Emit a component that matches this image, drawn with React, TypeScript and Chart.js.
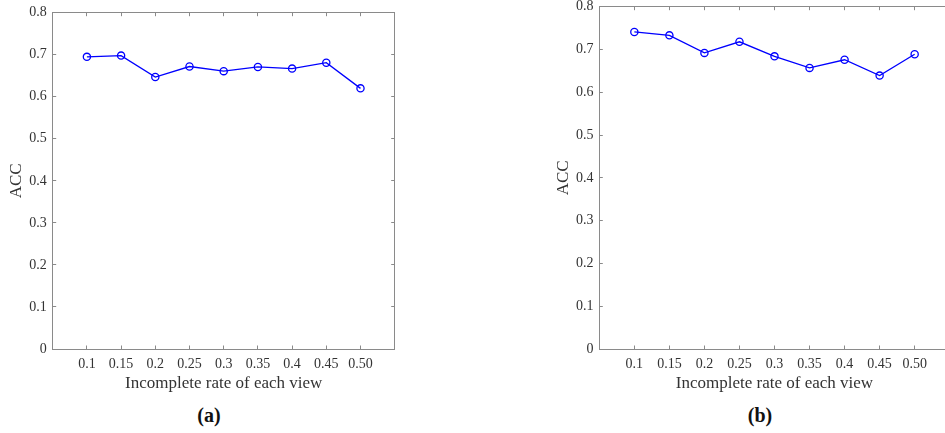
import React, { useEffect, useRef } from "react";
import { Chart, registerables } from "chart.js";

Chart.register(...registerables);

const RATES = ["0.1", "0.15", "0.2", "0.25", "0.3", "0.35", "0.4", "0.45", "0.50"];
const ACC_A = [0.695, 0.698, 0.647, 0.672, 0.661, 0.671, 0.667, 0.681, 0.62];
const ACC_B = [0.741, 0.733, 0.692, 0.718, 0.684, 0.657, 0.676, 0.639, 0.689];
const Y_TICKS = [0, 0.1, 0.2, 0.3, 0.4, 0.5, 0.6, 0.7, 0.8];
const X_TITLE = "Incomplete rate of each view";
const Y_TITLE = "ACC";
const CAPTIONS = ["(a)", "(b)"];

const FONT = "'Liberation Serif', 'Times New Roman', serif";
const AXIS_COLOR = "#8a8a8a";
const TEXT_COLOR = "#333333";
const LINE_COLOR = "#0000ff";
const TICK_LEN = -3.5;

type PanelGeom = {
  left: number;
  width: number;
  height: number;
  padTop: number;
  padRight: number;
  yWidth: number;
  xHeight: number;
  showRight: boolean;
};

function buildChart(canvas: HTMLCanvasElement, values: number[], g: PanelGeom) {
  const xTickSetter = (scale: any) => {
    scale.ticks = RATES.map((_, i) => ({ value: i + 1 }));
  };
  const yTickSetter = (scale: any) => {
    scale.ticks = Y_TICKS.map((v) => ({ value: v }));
  };
  const gridOpts = {
    drawOnChartArea: false,
    drawTicks: true,
    tickLength: TICK_LEN,
    color: AXIS_COLOR,
    lineWidth: 1,
  };
  const borderOpts = { display: true, color: AXIS_COLOR, width: 1 };

  return new Chart(canvas, {
    type: "line",
    data: {
      datasets: [
        {
          data: values.map((v, i) => ({ x: i + 1, y: v })),
          borderColor: LINE_COLOR,
          borderWidth: 1.3,
          backgroundColor: "rgba(0,0,0,0)",
          pointStyle: "circle",
          pointRadius: 3.6,
          pointBorderWidth: 1.3,
          pointBorderColor: LINE_COLOR,
          pointBackgroundColor: "rgba(0,0,0,0)",
          tension: 0,
          fill: false,
          xAxisID: "x",
          yAxisID: "y",
        },
      ],
    },
    options: {
      animation: false,
      responsive: false,
      maintainAspectRatio: false,
      devicePixelRatio: 1,
      layout: {
        padding: { top: g.padTop, right: g.padRight, left: 0, bottom: 0 },
      },
      plugins: {
        legend: { display: false },
        tooltip: { enabled: false },
        title: { display: false },
      },
      scales: {
        x: {
          type: "linear",
          position: "bottom",
          min: 0,
          max: 10,
          afterBuildTicks: xTickSetter,
          afterFit: (s: any) => {
            s.height = g.xHeight;
            s.paddingLeft = 0;
            s.paddingRight = 0;
          },
          grid: gridOpts,
          border: borderOpts,
          ticks: {
            autoSkip: false,
            maxRotation: 0,
            padding: 10,
            color: TEXT_COLOR,
            font: { family: FONT, size: 14 },
            callback: (_v: any, i: number) => RATES[i],
          },
          title: {
            display: true,
            text: X_TITLE,
            color: TEXT_COLOR,
            font: { family: FONT, size: 17 },
            padding: { top: 0, bottom: 0 },
          },
        },
        x2: {
          type: "linear",
          position: "top",
          min: 0,
          max: 10,
          afterBuildTicks: xTickSetter,
          afterFit: (s: any) => {
            s.height = 0;
            s.paddingLeft = 0;
            s.paddingRight = 0;
          },
          grid: gridOpts,
          border: borderOpts,
          ticks: { display: false },
        },
        y: {
          type: "linear",
          position: "left",
          min: 0,
          max: 0.8,
          afterBuildTicks: yTickSetter,
          afterFit: (s: any) => {
            s.width = g.yWidth;
            s.paddingTop = 0;
            s.paddingBottom = 0;
          },
          grid: gridOpts,
          border: borderOpts,
          ticks: {
            padding: 9.4,
            color: TEXT_COLOR,
            font: { family: FONT, size: 14 },
            callback: (v: any) => String(Number(Number(v).toFixed(1))),
          },
          title: {
            display: true,
            text: Y_TITLE,
            color: TEXT_COLOR,
            font: { family: FONT, size: 17 },
            padding: { top: 6.5, bottom: 0 },
          },
        },
        y2: {
          type: "linear",
          position: "right",
          display: g.showRight,
          min: 0,
          max: 0.8,
          afterBuildTicks: yTickSetter,
          afterFit: (s: any) => {
            s.width = 0;
            s.paddingTop = 0;
            s.paddingBottom = 0;
          },
          grid: gridOpts,
          border: borderOpts,
          ticks: { display: false },
        },
      },
    } as any,
  });
}

const PANEL_A: PanelGeom = {
  left: 0,
  width: 400,
  height: 394,
  padTop: 12.7,
  padRight: 4.3,
  yWidth: 52.7,
  xHeight: 45,
  showRight: true,
};

const PANEL_B: PanelGeom = {
  left: 547,
  width: 408,
  height: 394,
  padTop: 6.7,
  padRight: 1,
  yWidth: 52.3,
  xHeight: 45,
  showRight: false,
};

function Panel({ values, geom }: { values: number[]; geom: PanelGeom }) {
  const ref = useRef<HTMLCanvasElement | null>(null);
  useEffect(() => {
    if (!ref.current) return;
    const chart = buildChart(ref.current, values, geom);
    return () => chart.destroy();
  }, [values, geom]);
  return (
    <canvas
      ref={ref}
      width={geom.width}
      height={geom.height}
      style={{
        position: "absolute",
        left: geom.left,
        top: 0,
        width: geom.width,
        height: geom.height,
      }}
    />
  );
}

function Caption({ text, cx }: { text: string; cx: number }) {
  return (
    <div
      style={{
        position: "absolute",
        left: cx - 50,
        width: 100,
        top: 403,
        height: 24,
        lineHeight: "24px",
        textAlign: "center",
        fontFamily: FONT,
        fontWeight: "bold",
        fontSize: 20,
        color: "#111",
      }}
    >
      {text}
    </div>
  );
}

export default function App() {
  return (
    <div
      style={{
        position: "fixed",
        left: 0,
        top: 0,
        width: 945,
        height: 433,
        overflow: "hidden",
        background: "#ffffff",
      }}
    >
      <Panel values={ACC_A} geom={PANEL_A} />
      <Panel values={ACC_B} geom={PANEL_B} />
      <Caption text={CAPTIONS[0]} cx={209} />
      <Caption text={CAPTIONS[1]} cx={760} />
    </div>
  );
}
